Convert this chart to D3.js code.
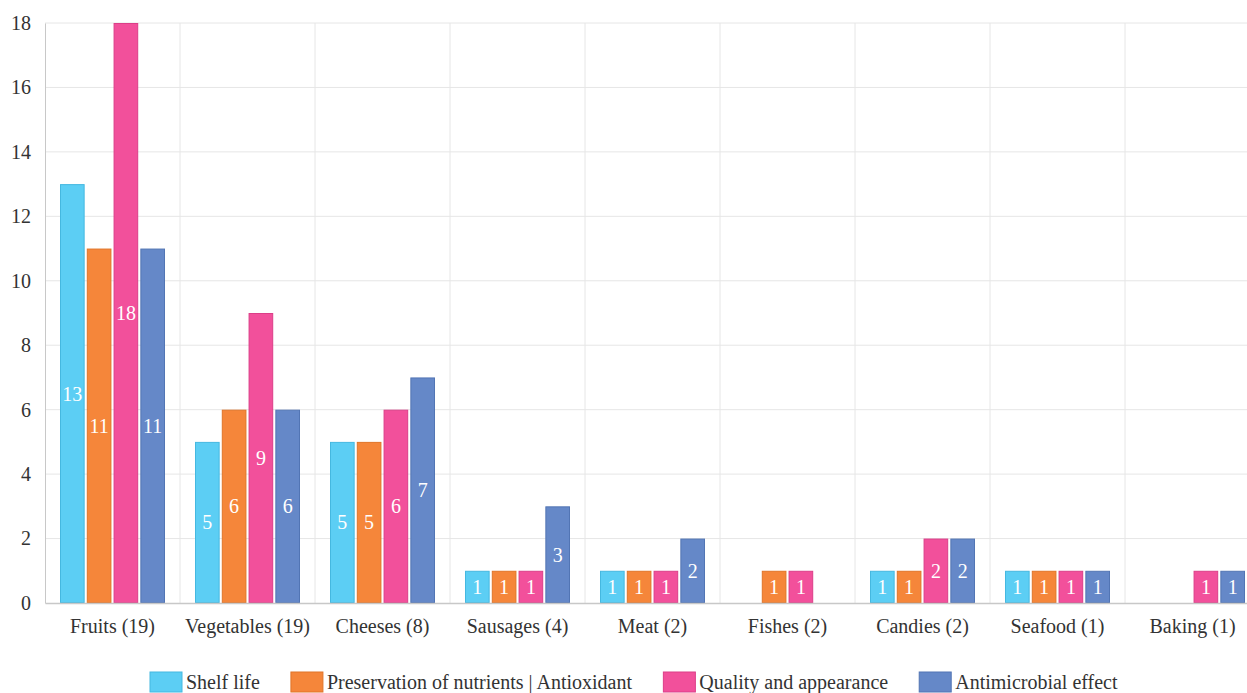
<!DOCTYPE html>
<html><head><meta charset="utf-8">
<script src="https://cdn.jsdelivr.net/npm/d3@7"></script>
<style>body{margin:0;background:#fff;}svg{display:block;}
svg text{font-family:"Liberation Serif","Times New Roman",Times,"Tinos","DejaVu Serif","Noto Serif",FreeSerif,serif !important;}</style>
</head><body><svg id="c" width="1247" height="693"></svg>
<script>
const categories = ["Fruits (19)","Vegetables (19)","Cheeses (8)","Sausages (4)","Meat (2)","Fishes (2)","Candies (2)","Seafood (1)","Baking (1)"];
const seriesNames = ["Shelf life","Preservation of nutrients | Antioxidant","Quality and appearance","Antimicrobial effect"];
const shelfLife = [13,5,5,1,1,0,1,1,0];
const preservation = [11,6,5,1,1,1,1,1,0];
const quality = [18,9,6,1,1,1,2,1,1];
const antimicrobial = [11,6,7,3,2,0,2,1,1];
const yTicks = [0,2,4,6,8,10,12,14,16,18];
const fills = ["#5CCEF4","#F5863A","#F2509B","#6588C8"];
const strokes = ["#45B8E0","#E07428","#DC3E88","#5275B4"];

(function(){
const series = [shelfLife, preservation, quality, antimicrobial];
const svg = d3.select("#c");
const mLeft = 45, mRight = 1260, mTop = 23, mBottom = 603;
const x0 = d3.scaleBand().domain(categories).range([mLeft, mRight]).padding(0);
const x1 = d3.scaleBand().domain(d3.range(4)).range([15, 120]).paddingInner(0.08);
const y = d3.scaleLinear().domain([0,18]).range([mBottom, mTop]);

svg.append("g").selectAll("line").data(yTicks.slice(1)).join("line")
  .attr("x1", mLeft).attr("x2", mRight).attr("y1", d=>y(d)).attr("y2", d=>y(d))
  .attr("stroke","#e6e6e6").attr("stroke-width",1);
svg.append("g").selectAll("line").data(categories.slice(1)).join("line")
  .attr("x1", d=>x0(d)).attr("x2", d=>x0(d)).attr("y1", mTop).attr("y2", mBottom)
  .attr("stroke","#e6e6e6").attr("stroke-width",1);

const ya = svg.append("g").attr("transform",`translate(${mLeft},0)`)
  .call(d3.axisLeft(y).tickValues(yTicks).tickSize(0).tickPadding(14));
ya.attr("font-family", null);
ya.select(".domain").attr("stroke","#c8c8c8");
ya.selectAll("text").attr("font-size",20).attr("fill","#333");

const groups = svg.append("g").selectAll("g").data(categories).join("g")
  .attr("transform", d=>`translate(${x0(d)},0)`);
groups.each(function(cat, ci){
  const g = d3.select(this);
  series.forEach((s, si) => {
    const v = s[ci];
    if (!v) return;
    g.append("rect").attr("x", x1(si)+0.5).attr("y", y(v)+0.5)
      .attr("width", x1.bandwidth()-1).attr("height", y(0)-y(v)-1)
      .attr("fill", fills[si]).attr("stroke", strokes[si]).attr("stroke-width",1);
    g.append("text").attr("x", x1(si)+x1.bandwidth()/2).attr("y", (y(v)+y(0))/2)
      .attr("text-anchor","middle").attr("dominant-baseline","central")
      .attr("fill","#fff").attr("font-size",20).text(v);
  });
});

const xa = svg.append("g").attr("transform",`translate(0,${mBottom})`)
  .call(d3.axisBottom(x0).tickSize(0).tickPadding(16));
xa.attr("font-family", null);
xa.select(".domain").attr("stroke","#c8c8c8").attr("stroke-width",1.5);
xa.selectAll("text").attr("font-size",20).attr("fill","#333");

const lg = svg.append("g");
const items = lg.selectAll("g").data(seriesNames).join("g");
items.append("rect").attr("width",32).attr("height",20).attr("y",-10)
  .attr("fill",(d,i)=>fills[i]).attr("stroke",(d,i)=>strokes[i]);
items.append("text").attr("x",36).attr("y",0).attr("dominant-baseline","central")
  .attr("font-size",20).attr("fill","#333").text(d=>d);
const widths = [];
items.each(function(){ widths.push(this.getBBox().width); });
const legendStart = 150, legendEnd = 1118;
const gap = Math.max(10, (legendEnd - legendStart - d3.sum(widths)) / (widths.length - 1));
let offs = legendStart;
items.attr("transform",(d,i)=>{ const t = `translate(${offs},682)`; offs += widths[i] + gap; return t; });
})();
</script></body></html>
